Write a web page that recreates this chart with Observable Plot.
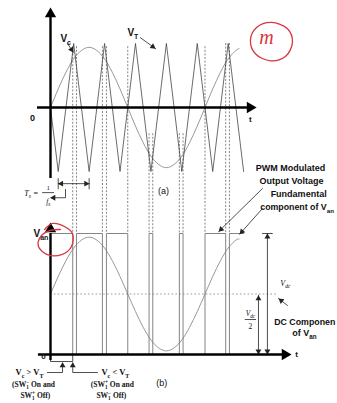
<!DOCTYPE html>
<html><head><meta charset="utf-8">
<script src="https://cdn.jsdelivr.net/npm/d3@7"></script>
<script src="https://cdn.jsdelivr.net/npm/@observablehq/plot@0.6"></script>
<style>
html,body{margin:0;padding:0;background:#fff;}
#chart{width:337px;height:403px;overflow:hidden;}
svg{display:block;}
</style></head><body><div id="chart"></div>
<script>
// ---------- data (time in carrier periods, top panel values in carrier peak units) ----------
const triT = [0,0.25,0.75,1.25,1.75,2.25,2.75,3.25,3.75,4.25,4.75,5.25,5.75,6.25];
const triV = [0,-1,1,-1,1,-1,1,-1,1,-1,1,-1,1,-1];
const sinT = [0,0.25,0.5,0.75,1,1.25,1.5,1.75,2,2.25,2.5,2.75,3,3.25,3.5,3.75,4,4.25,4.5,4.75,5,5.25,5.5,5.75,6,6.1];
const sinV = [0,.29,.55,.76,.89,.94,.89,.76,.55,.29,0,-.29,-.55,-.76,-.89,-.94,-.89,-.76,-.55,-.29,0,.29,.55,.76,.89,.92];
// fundamental component of Van (units of Vdc)
const fundV = [.50,.645,.775,.88,.945,.97,.945,.88,.775,.645,.50,.355,.225,.12,.055,.03,.055,.12,.225,.355,.50,.645,.775,.88,.945,.955];
// switching instants (Vc = VT)
const switchT   = [0.72,0.84,1.68,1.81,2.50,3.19,3.31,4.17,4.29,5.00,5.67,5.79];
const switchTop = [0.95,0.95,0.95,0.95,0.95,-0.41,-0.41,-0.41,-0.41,0.95,1.0,1.0];
const pwmEnd = 6.25;
const dcLevel = 0.5;

// ---------- layout ----------
const PXT = 30.9, PXV = 64;
const BASE = (107 - 354) / PXV, BK = 121 / PXV;
const yB = u => BASE + u * BK;          // bottom panel value -> shared y units
const SANS = "Liberation Sans, Arial, sans-serif";
const SERIF = "Liberation Serif, DejaVu Serif, serif";

// PWM polyline
const pwm = [[0,0],[0,1]];
let s = 1;
for (const e of switchT) { pwm.push([e, s]); s = 1 - s; pwm.push([e, s]); }
pwm.push([pwmEnd, s]);

const ang = (t1,v1,t2,v2) => Math.atan2((t2-t1)*PXT, (v2-v1)*PXV) * 180 / Math.PI;
function headAt(t, v, a, r) {
  const rad = a * Math.PI / 180, k = 1.55 * r;
  return {t: t - Math.sin(rad)*k/PXT, v: v - Math.cos(rad)*k/PXV, a};
}
const leader = (t1,v1,t2,v2) => ({pts:[[t1,v1],[t2,v2]], head: headAt(t2,v2,ang(t1,v1,t2,v2),2.2)});

const leaders = [
  leader(0.55,1.0,0.74,0.86),
  leader(2.91,1.09,3.40,0.92),
  leader(6.86,-1.266,5.44,-1.94),
  leader(6.86,-1.578,6.12,-1.98),
  leader(7.67,yB(.405),7.38,yB(.463)),
];
const guides = [
  [[0.25,-1.11],[0.25,-1.27]],
  [[1.25,-1.11],[1.25,-1.27]],
  [[0.25,-1.19],[1.25,-1.19]],
  [[0.485,-1.28],[0.485,-1.41],[0.02,-1.41]],
  [[-0.26,-1.33],[0.10,-1.33]],
  [[7.02,yB(0)],[7.02,yB(1)]],
  [[6.86,yB(1)],[7.18,yB(1)]],
  [[6.73,yB(0)],[6.73,yB(0.49)]],
  [[6.30,yB(.289)],[6.64,yB(.289)]],
  [[0,yB(0)],[0,yB(-0.058)],[switchT[0],yB(-0.058)],[switchT[0],yB(0)]],
  [[-0.1,yB(-.149)],[0.39,yB(-.149)],[0.39,yB(-.07)]],
  [[1.52,yB(-.149)],[switchT[0],yB(-.149)],[switchT[0],yB(-.07)]],
  ...leaders.map(l => l.pts)
];
const guideData = guides.flatMap((g,i) => g.map(p => ({t:p[0], v:p[1], id:i})));
const smallHeads = [
  ...leaders.map(l => l.head),
  headAt(7.02,yB(1),0,2.2), headAt(7.02,yB(0),180,2.2),
  headAt(6.73,yB(0.49),0,2.2), headAt(6.73,yB(0),180,2.2),
  headAt(0.25,-1.19,270,2), headAt(1.25,-1.19,90,2),
  headAt(0,-1.41,270,2),
  headAt(0.39,yB(-0.066),0,2), headAt(switchT[0],yB(-0.066),0,2)
];
const bigHeads = [
  headAt(0,1.5625,0,4.2), headAt(6.67,0,90,4.2),
  headAt(0,yB(1.091),0,4.2), headAt(7.8,yB(0),90,4.2)
];

const redCircleT = [6.47,6.67,7.15,7.67,7.83,7.61,7.12,6.63];
const redCircleV = [1.047,1.25,1.33,1.23,1.02,0.80,0.73,0.84];
const redLoopT = [-0.19,0.065,0.45,0.71,0.68,0.36,-0.10,-0.39,-0.32,0,0.32];
const redLoopU = [1.033,1.083,1.058,1.0,0.893,0.826,0.826,0.893,0.975,1.025,1.033];

const texts = [
  {t:-0.58,v:-0.16,text:"0",size:9,weight:"bold"},
  {t:6.47,v:-0.19,text:"t",size:8,weight:"bold"},
  {t:0.32,v:1.08,text:"V_{c}",size:10,weight:"bold",anchor:"start"},
  {t:2.49,v:1.17,text:"V_{T}",size:10,weight:"bold",anchor:"start"},
  {t:3.66,v:-1.30,text:"(a)",size:9},
  {t:-0.62,v:-1.34,text:"T_{s} =",size:8,style:"italic",family:SERIF},
  {t:-0.07,v:-1.25,text:"1",size:7,family:SERIF},
  {t:-0.07,v:-1.47,text:"f_{s}",size:7.5,style:"italic",family:SERIF},
  {t:7.77,v:-0.953,text:"PWM Modulated",size:9,weight:"bold"},
  {t:7.80,v:-1.156,text:"Output Voltage",size:9,weight:"bold"},
  {t:8.03,v:-1.36,text:"Fundamental",size:9,weight:"bold"},
  {t:7.98,v:-1.5625,text:"component of V_{an}",size:8.8,weight:"bold"},
  {t:7.24,v:yB(.264),text:"DC Componen",size:8.8,weight:"bold",anchor:"start"},
  {t:8.22,v:yB(.174),text:"of V_{an}",size:9,weight:"bold"},
  {t:7.6,v:yB(.587),text:"V_{dc}",size:8,style:"italic",family:SERIF},
  {t:6.47,v:yB(.339),text:"V_{dc}",size:7.5,style:"italic",family:SERIF},
  {t:6.47,v:yB(.231),text:"2",size:7.5,family:SERIF},
  {t:-0.55,v:yB(1.0),text:"V_{an}",size:10,weight:"bold",anchor:"start"},
  {t:-0.23,v:yB(-0.02),text:"0",size:8,weight:"bold"},
  {t:7.96,v:yB(0),text:"t",size:8,weight:"bold"},
  {t:-0.68,v:yB(-.149),text:"V_{c} > V_{T}",size:8.5,weight:"bold",family:SERIF},
  {t:-0.55,v:yB(-.248),text:"(SW_{1}^{−} On and",size:7.5,weight:"bold",family:SERIF},
  {t:-0.49,v:yB(-.339),text:"SW_{1}^{+} Off)",size:7.5,weight:"bold",family:SERIF},
  {t:2.10,v:yB(-.149),text:"V_{c} < V_{T}",size:8.5,weight:"bold",family:SERIF},
  {t:2.00,v:yB(-.248),text:"(SW_{1}^{+} On and",size:7.5,weight:"bold",family:SERIF},
  {t:1.97,v:yB(-.339),text:"SW_{1}^{−} Off)",size:7.5,weight:"bold",family:SERIF},
  {t:3.6,v:yB(-.24),text:"(b)",size:9},
];

const plot = Plot.plot({
  width: 337, height: 403,
  x: {domain: [0, 6], range: [50, 50 + 6 * PXT], axis: null},
  y: {domain: [-1, 1], range: [171, 43], axis: null},
  style: {background: "white", overflow: "visible"},
  marks: [
    Plot.ruleX(switchT, {x: d => d, y1: (d,i) => switchTop[i], y2: yB(1), stroke: "#666", strokeWidth: 0.8, strokeDasharray: "2,1.6"}),
    Plot.ruleY([dcLevel], {y: d => yB(d), x1: 0, x2: 7.35, stroke: "#999", strokeWidth: 1.1, strokeDasharray: "1.6,2.2"}),
    Plot.line(sinV, {x: sinT, y: sinV, curve: "natural", stroke: "#999", strokeWidth: 1}),
    Plot.line(triV, {x: triT, y: triV, stroke: "#3a3a3a", strokeWidth: 0.75}),
    Plot.line(fundV, {x: sinT, y: fundV.map(yB), curve: "natural", stroke: "#999", strokeWidth: 1}),
    Plot.line(pwm, {x: d => d[0], y: d => yB(d[1]), stroke: "#777", strokeWidth: 0.9}),
    Plot.line(guideData, {x: "t", y: "v", z: "id", stroke: "#222", strokeWidth: 0.8}),
    Plot.dot(smallHeads, {x: "t", y: "v", rotate: "a", symbol: "triangle", r: 2.2, fill: "#222", stroke: null}),
    Plot.ruleX([0], {x: 0, y1: -1.11, y2: 1.45, stroke: "#000", strokeWidth: 2.4}),
    Plot.ruleY([0], {y: 0, x1: -0.42, x2: 6.45, stroke: "#000", strokeWidth: 2.4}),
    Plot.ruleX([0], {x: 0, y1: yB(-0.05), y2: yB(1.0), stroke: "#000", strokeWidth: 2.4}),
    Plot.ruleY([0], {y: yB(0), x1: -0.39, x2: 7.6, stroke: "#000", strokeWidth: 2.4}),
    Plot.dot(bigHeads, {x: "t", y: "v", rotate: "a", symbol: "triangle", r: 4.2, fill: "#000", stroke: null}),
    ...texts.map(s => Plot.text([s], {x: "t", y: "v", text: "text", fontSize: s.size,
      fontWeight: s.weight || "normal", fontStyle: s.style || "normal",
      fontFamily: s.family || SANS, textAnchor: s.anchor || "middle", fill: "#111"})),
    Plot.line(redCircleV, {x: redCircleT, y: redCircleV, curve: "catmull-rom-closed", stroke: "#d9343f", strokeWidth: 1.3}),
    Plot.text(["m"], {x: 6.99, y: 1.09, text: d => d, fontSize: 20, fontStyle: "italic", fontFamily: SERIF, fill: "#d9343f"}),
    Plot.line(redLoopU, {x: redLoopT, y: redLoopU.map(yB), curve: "catmull-rom", stroke: "#d9343f", strokeWidth: 1.3}),
  ]
});
document.getElementById("chart").appendChild(plot);

// rich text: _{sub} and ^{sup}
plot.querySelectorAll("text").forEach(el => {
  const str = el.textContent;
  if (!/[_^]\{/.test(str)) return;
  const fs = parseFloat(getComputedStyle(el).fontSize) || 10;
  const parts = str.split(/([_^]\{[^}]*\})/).filter(p => p !== "");
  el.textContent = "";
  let shift = 0, prevSub = null;
  for (const p of parts) {
    const ts = document.createElementNS("http://www.w3.org/2000/svg", "tspan");
    let target = 0, txt = p, small = false, dx = 0;
    if (p.startsWith("_{")) { target = 0.3 * fs; txt = p.slice(2, -1); small = true; }
    else if (p.startsWith("^{")) { target = -0.35 * fs; txt = p.slice(2, -1); small = true;
      if (prevSub) dx = -prevSub.length * 0.5 * 0.7 * fs; }
    ts.setAttribute("dy", target - shift); shift = target;
    if (dx) ts.setAttribute("dx", dx);
    if (small) ts.setAttribute("font-size", 0.7 * fs);
    ts.textContent = txt;
    el.appendChild(ts);
    prevSub = p.startsWith("_{") ? txt : null;
  }
});
</script></body></html>
